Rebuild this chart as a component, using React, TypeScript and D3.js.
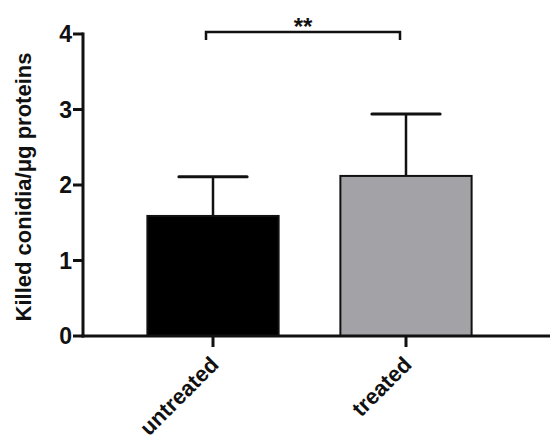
import React from "react";
import { scaleLinear, scaleBand } from "d3";

const groups = ["untreated", "treated"];
const means = [1.59, 2.12];
const sems = [0.52, 0.82];
const fills = ["#000000", "#a3a2a7"];
const yTicks = [0, 1, 2, 3, 4];

const W = 550;
const H = 442;
const FONT = "'Liberation Sans', Arial, sans-serif";

export default function App() {
  const y = scaleLinear().domain([0, 4]).range([336, 34]);
  const x = scaleBand<string>()
    .domain(groups)
    .range([116.5, 502.5])
    .paddingInner(0.32)
    .paddingOuter(0.16);
  const bw = x.bandwidth();
  const cx = (g: string) => (x(g) as number) + bw / 2;
  const capHalf = bw * 0.26;

  const bx1 = cx(groups[0]) - 7;
  const bx2 = cx(groups[1]) - 6;
  const by = 32;

  return (
    <svg width={W} height={H} style={{ position: "absolute", left: 0, top: 0, background: "#fff" }}>
      {/* bars */}
      {groups.map((g, i) => (
        <g key={g}>
          <line x1={cx(g)} x2={cx(g)} y1={y(means[i])} y2={y(means[i] + sems[i])} stroke="#111" strokeWidth={2.5} />
          <line
            x1={cx(g) - capHalf}
            x2={cx(g) + capHalf}
            y1={y(means[i] + sems[i])}
            y2={y(means[i] + sems[i])}
            stroke="#111"
            strokeWidth={3}
            strokeLinecap="round"
          />
          <rect
            x={x(g)}
            y={y(means[i])}
            width={bw}
            height={y(0) - y(means[i])}
            fill={fills[i]}
            stroke="#111"
            strokeWidth={2}
          />
        </g>
      ))}

      {/* y axis */}
      <line x1={83} x2={83} y1={y(4) - 1.5} y2={y(0) + 1.5} stroke="#111" strokeWidth={3} />
      {yTicks.map((t) => (
        <g key={t}>
          <line x1={73} x2={83} y1={y(t)} y2={y(t)} stroke="#111" strokeWidth={3} />
          <text x={72} y={y(t)} dy="0.36em" textAnchor="end" fontFamily={FONT} fontWeight="bold" fontSize={23} fill="#111">
            {t}
          </text>
        </g>
      ))}

      {/* x axis */}
      <line x1={81.5} x2={W} y1={y(0)} y2={y(0)} stroke="#111" strokeWidth={3} />
      {groups.map((g) => (
        <g key={g}>
          <line x1={cx(g)} x2={cx(g)} y1={y(0)} y2={y(0) + 11} stroke="#111" strokeWidth={3} />
          <text
            transform={`translate(${cx(g) - 4},${y(0) + 19}) rotate(-45)`}
            textAnchor="end"
            dy="0.7em"
            fontFamily={FONT}
            fontWeight="bold"
            fontSize={22}
            fill="#111"
          >
            {g}
          </text>
        </g>
      ))}

      {/* y label */}
      <text
        transform={`translate(31,${(y(0) + y(4)) / 2 + 2}) rotate(-90)`}
        textAnchor="middle"
        fontFamily={FONT}
        fontWeight="bold"
        fontSize={22}
        fill="#111"
      >
        Killed conidia/μg proteins
      </text>

      {/* significance bracket */}
      <path
        d={`M${bx1},${by + 8} V${by} H${bx2} V${by + 8}`}
        fill="none"
        stroke="#111"
        strokeWidth={2.5}
      />
      <text x={(bx1 + bx2) / 2} y={by + 3} textAnchor="middle" fontFamily={FONT} fontWeight="bold" fontSize={24} fill="#111">
        **
      </text>
    </svg>
  );
}
